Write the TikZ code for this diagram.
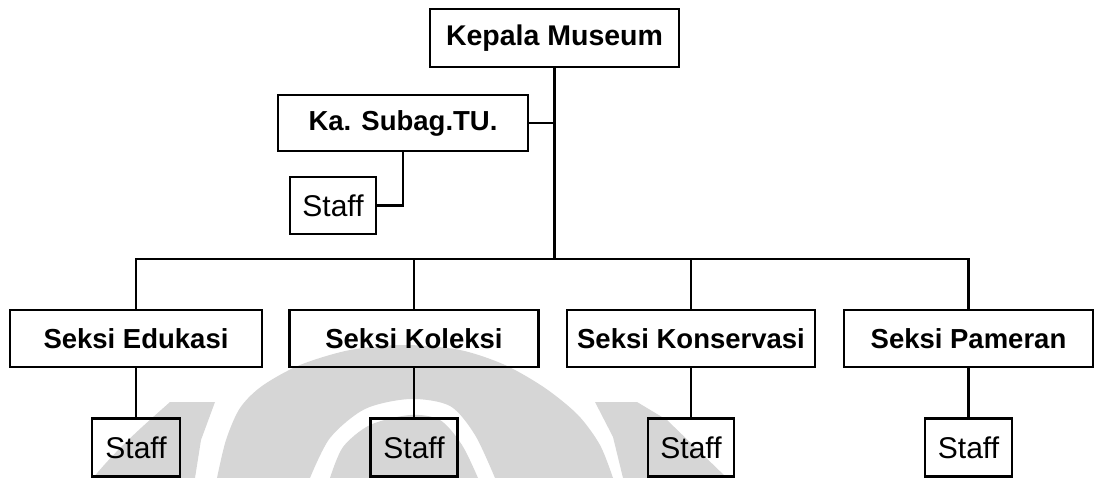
\documentclass[tikz,border=0pt]{standalone}
\usepackage{fontspec}
\setmainfont{Liberation Sans}
\begin{document}
\begin{tikzpicture}[x=1pt,y=-1pt,
  wm/.style={fill=black!16},
  unit/.style={draw, line width=2.2pt, inner sep=0pt, minimum height=57pt,
    font=\bfseries\fontsize{27.5}{30}\selectfont},
  staffbox/.style={draw, line width=2.2pt, inner sep=0pt, minimum width=87pt,
    minimum height=58pt, font=\fontsize{30}{32}\selectfont},
  link/.style={line width=2.2pt}]
\useasboundingbox (0,0) rectangle (1097,478);
\clip (0,0) rectangle (1097,478);

% faint emblem in the background
\fill[wm] (170,402) -- (215,402) -- (201,440) -- (195,478) -- (93,478)
  .. controls (120,445) and (150,420) .. (170,402) -- cycle;
\fill[wm] (595,402) -- (637,402) -- (667,420) -- (727,478) -- (623,478)
  -- (613,437) -- cycle;
\fill[wm] plot[smooth] coordinates {(217,478) (226,440) (240,408) (262,386)
    (300,365) (350,350) (405,345) (460,350) (505,365) (545,388) (578,415)
    (600,445) (613,478)}
  -- plot[smooth] coordinates {(495,478) (475,435) (450,406) (410,399)
    (365,409) (330,438) (310,478)} -- cycle;
\fill[wm] plot[smooth] coordinates {(330,478) (343,447) (370,425) (410,415)
    (440,420) (462,445) (478,478)} -- cycle;

% organisation units
\node[unit, minimum width=249pt, minimum height=58pt,
  font=\bfseries\fontsize{28.5}{30}\selectfont] (kepala) at (554.5,38) {Kepala Museum};
\node[unit, minimum width=250pt, minimum height=56pt] (subag) at (403,123) {Ka. Subag.TU.};
\node[staffbox, minimum width=86pt, minimum height=57pt] (stafftu) at (333,205.5) {Staff};

\node[unit, minimum width=252pt] (edukasi) at (136,338.5) {Seksi Edukasi};
\node[unit, minimum width=249pt] (koleksi) at (414,338.5) {Seksi Koleksi};
\node[unit, minimum width=248pt] (konservasi) at (691,338.5) {Seksi Konservasi};
\node[unit, minimum width=249pt] (pameran) at (968.5,338.5) {Seksi Pameran};

\node[staffbox, minimum width=88pt] (staffa) at (136,447.5) {Staff};
\node[staffbox] (staffb) at (414,447.5) {Staff};
\node[staffbox, minimum width=86pt] (staffc) at (691,447.5) {Staff};
\node[staffbox] (staffd) at (968.5,447.5) {Staff};

% connectors
\coordinate (hub) at (554.5,259);
\coordinate (busL) at (136,259);
\coordinate (busR) at (968.5,259);
\draw[link] (kepala.south) -- (hub);
\draw[link] (subag.east) -- (subag.east -| kepala.south);
\draw[link] (stafftu.east) -| (subag.south);
\draw[link, line cap=rect] (busL) -- (busR);
\foreach \u in {edukasi,koleksi,konservasi,pameran}
  \draw[link] (\u.north) -- (\u.north |- hub);
\draw[link] (edukasi.south) -- (staffa.north);
\draw[link] (koleksi.south) -- (staffb.north);
\draw[link] (konservasi.south) -- (staffc.north);
\draw[link] (pameran.south) -- (staffd.north);
\end{tikzpicture}
\end{document}
